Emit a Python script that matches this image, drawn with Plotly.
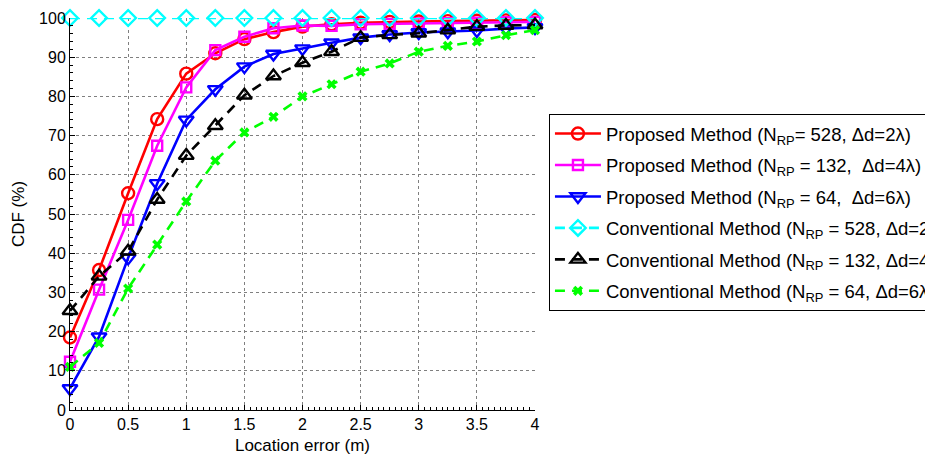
import plotly.graph_objects as go

x_err = [0, 0.25, 0.5, 0.75, 1, 1.25, 1.5, 1.75, 2, 2.25, 2.5, 2.75, 3, 3.25, 3.5, 3.75, 4]

prop_528 = [18.5, 35.7, 55.3, 74.2, 85.8, 91.0, 94.6, 96.4, 97.8, 98.4, 98.8, 99.0, 99.1, 99.2, 99.3, 99.4, 99.5]
prop_132 = [12.3, 30.7, 48.5, 67.4, 82.3, 91.8, 95.2, 97.4, 98.1, 98.0, 98.4, 98.5, 98.6, 98.7, 98.8, 98.9, 99.0]
prop_64 = [5.5, 18.7, 38.8, 57.8, 74.0, 81.8, 87.6, 90.8, 92.2, 93.7, 95.0, 95.8, 96.3, 96.5, 96.8, 97.3, 97.6]
conv_528 = [100] * 17
conv_132 = [25.3, 34.1, 40.5, 53.7, 64.9, 72.5, 80.3, 85.2, 88.6, 91.4, 95.0, 95.7, 96.1, 96.9, 97.8, 98.1, 98.2]
conv_64 = [11.0, 17.1, 31.0, 42.2, 53.2, 63.6, 70.8, 74.8, 80.0, 83.1, 86.3, 88.4, 91.4, 92.9, 94.0, 95.6, 96.9]

names = [
    "Proposed Method (N<sub>RP</sub>= 528, \u0394d=2\u03bb)",
    "Proposed Method (N<sub>RP</sub> = 132,  \u0394d=4\u03bb)",
    "Proposed Method (N<sub>RP</sub> = 64,  \u0394d=6\u03bb)",
    "Conventional Method (N<sub>RP</sub> = 528, \u0394d=2\u03bb)",
    "Conventional Method (N<sub>RP</sub> = 132, \u0394d=4\u03bb)",
    "Conventional Method (N<sub>RP</sub> = 64, \u0394d=6\u03bb)",
]
series = [prop_528, prop_132, prop_64, conv_528, conv_132, conv_64]
colors = ["#ff0000", "#ff00ff", "#0000ff", "#00ffff", "#000000", "#00ff00"]
symbols = ["circle-open", "square-open", "triangle-down-open", "diamond-open", "triangle-up-open", "x"]
sizes = [12, 10, 13, 12, 13, 9]
dashes = ["solid", "solid", "solid", "10px,7px", "10px,7px", "10px,7px"]

fig = go.Figure()
for i in range(6):
    fig.add_trace(go.Scatter(
        x=x_err, y=series[i], name=names[i], mode="lines+markers",
        line=dict(color=colors[i], width=2.6, dash=dashes[i]),
        marker=dict(symbol=symbols[i], size=sizes[i], color=colors[i],
                    line=dict(color=colors[i], width=2.4 if i != 5 else 0)),
        cliponaxis=False, legendgroup="g%d" % i,
    ))

fig.update_layout(
    width=933, height=459,
    margin=dict(l=61.5, r=405.5, t=9.5, b=56.5, autoexpand=False),
    paper_bgcolor="white", plot_bgcolor="white",
    font=dict(family="Liberation Sans, Arial, sans-serif", color="black", size=16),
    showlegend=True,
    legend=dict(x=1.03, y=0.755, xanchor="left", yanchor="top",
                bordercolor="black", borderwidth=1, bgcolor="white",
                font=dict(size=18.5), tracegroupgap=4.4, itemwidth=46,
                traceorder="grouped"),
    xaxis=dict(range=[0, 4], dtick=0.5, showline=True, linecolor="black", linewidth=1,
               ticks="inside", ticklen=5, tickcolor="black",
               showgrid=True, gridcolor="#7f7f7f", griddash="dot", gridwidth=1,
               zeroline=False, mirror=False,
               minor=dict(dtick=0.05, ticks="inside", ticklen=3, tickcolor="black", showgrid=False),
               title=dict(text="Location error (m)", font=dict(size=17), standoff=6)),
    yaxis=dict(range=[0, 100], dtick=10, showline=True, linecolor="black", linewidth=1,
               ticks="inside", ticklen=5, tickcolor="black",
               showgrid=True, gridcolor="#7f7f7f", griddash="dot", gridwidth=1,
               zeroline=False, mirror=False,
               minor=dict(dtick=2, ticks="inside", ticklen=3, tickcolor="black", showgrid=False),
               title=dict(text="CDF (%)", font=dict(size=17), standoff=10)),
)

fig.write_html("out.html")
